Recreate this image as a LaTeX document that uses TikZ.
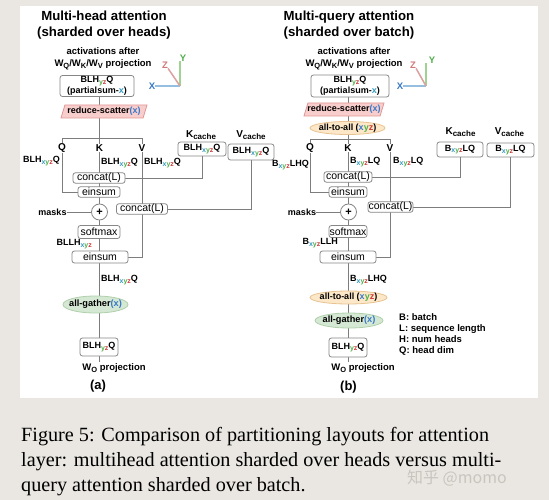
\documentclass[tikz,border=0pt]{standalone}
\usepackage{fontspec}
\setmainfont{Liberation Sans}
\setsansfont{Liberation Sans}
\newfontfamily\capfont{Liberation Serif}
\newfontfamily\cjkfont{Noto Sans CJK SC}
\usetikzlibrary{shapes.geometric,calc}
\pgfdeclarelayer{bg}
\pgfdeclarelayer{lines}
\pgfsetlayers{bg,lines,main}
\definecolor{pagebg}{RGB}{234,231,226}
\definecolor{xc}{RGB}{55,120,200}
\definecolor{xs}{RGB}{55,155,195}
\definecolor{yc}{RGB}{80,175,75}
\definecolor{zc}{RGB}{205,55,55}
\definecolor{zl}{RGB}{210,120,120}
\definecolor{xline}{RGB}{150,190,225}
\definecolor{yline}{RGB}{160,210,145}
\definecolor{zline}{RGB}{220,160,160}
\definecolor{boxgray}{RGB}{135,135,135}
\definecolor{linegray}{RGB}{125,125,125}
\definecolor{rsfill}{RGB}{248,206,204}
\definecolor{rsdraw}{RGB}{225,150,150}
\definecolor{agfill}{RGB}{213,232,212}
\definecolor{agdraw}{RGB}{175,208,170}
\definecolor{aafill}{RGB}{252,232,200}
\definecolor{aadraw}{RGB}{232,195,145}
\definecolor{wmgray}{RGB}{200,196,190}
\newcommand{\lowsub}[2]{\raisebox{-0.35ex}{\fontsize{#1}{#1}\selectfont #2}}
\newcommand{\sxyz}{\lowsub{7}{\textcolor{xs}{x}\textcolor{yc}{y}\textcolor{zc}{z}}}
\newcommand{\syz}{\lowsub{7}{\textcolor{yc}{y}\textcolor{zc}{z}}}
\tikzset{
  conn/.style={draw=linegray, line width=0.8pt},
  box/.style={draw=boxgray, line width=0.8pt, rounded corners=2.5pt, fill=white, inner sep=0pt, align=center},
  opbox/.style={box, font=\fontsize{10.5}{12}\selectfont},
  databox/.style={box, font=\fontsize{9}{10.5}\selectfont\bfseries},
  lbl/.style={inner sep=0pt, font=\fontsize{9}{10.5}\selectfont\bfseries},
  qkv/.style={inner sep=1pt, fill=white, font=\fontsize{10}{12}\selectfont\bfseries},
  rs/.style={trapezium, trapezium left angle=65, trapezium right angle=115, trapezium stretches body,
    draw=rsdraw, fill=rsfill, line width=0.8pt, inner sep=0pt, font=\fontsize{9}{10}\selectfont\bfseries},
  ag/.style={ellipse, draw=agdraw, fill=agfill, line width=0.8pt, inner sep=0pt, font=\fontsize{9.2}{10}\selectfont\bfseries},
  aa/.style={ellipse, draw=aadraw, fill=aafill, line width=0.8pt, inner sep=0pt, font=\fontsize{9}{10}\selectfont\bfseries},
  plus/.style={circle, draw=boxgray, fill=white, line width=0.8pt, inner sep=0pt, minimum size=16, font=\fontsize{11}{12}\selectfont\bfseries},
  ttl/.style={align=center, inner sep=0pt, font=\fontsize{13.2}{16}\selectfont\bfseries},
  hdr/.style={align=center, inner sep=0pt, font=\fontsize{9.5}{12}\selectfont\bfseries},
  cachelbl/.style={inner sep=0pt, font=\fontsize{10}{11}\selectfont\bfseries},
  axlbl/.style={inner sep=0pt, font=\fontsize{9.5}{10}\selectfont\bfseries},
  axln/.style={line width=1.5pt},
  plbl/.style={inner sep=0pt, font=\fontsize{13}{14}\selectfont\bfseries},
  wo/.style={inner sep=0pt, font=\fontsize{9.5}{11}\selectfont\bfseries},
  captxt/.style={inner sep=0pt, anchor=base west, font=\capfont\fontsize{20.2}{25}\selectfont}
}
\begin{document}
\begin{tikzpicture}[x=1pt,y=-1pt]
\begin{pgfonlayer}{bg}
\fill[pagebg] (0,0) rectangle (549,500);
\fill[white] (20,6) rectangle (538,398);
\end{pgfonlayer}
\useasboundingbox (0,0) rectangle (549,500);

% ---------------- titles ----------------
\node[ttl] (tA) at (104,25) {Multi-head attention\\(sharded over heads)};
\node[ttl] (tB) at (349,25) {Multi-query attention\\(sharded over batch)};
\node[hdr] (actA) at (103,59) {activations after\\W\lowsub{7.5}{Q}/W\lowsub{7.5}{K}/W\lowsub{7.5}{V} projection};
\node[hdr] (actB) at (354,59) {activations after\\W\lowsub{7.5}{Q}/W\lowsub{7.5}{K}/W\lowsub{7.5}{V} projection};

% ---------------- axes ----------------
\coordinate (oA) at (180,86);
\node[axlbl, text=xc] (axXA) at (152,86) {X};
\node[axlbl, text=yc] (axYA) at (183,58) {Y};
\node[axlbl, text=zl] (axZA) at (165,65) {Z};
\draw[axln, xline] (oA) -- (axXA.east);
\draw[axln, yline] (oA) -- (oA |- axYA.south);
\draw[axln, zline] (oA) -- (axZA.south east);
\coordinate (oB) at (426,86);
\node[axlbl, text=xc] (axXB) at (400,86) {X};
\node[axlbl, text=yc] (axYB) at (432,60) {Y};
\node[axlbl, text=zl] (axZB) at (413,65) {Z};
\draw[axln, xline] (oB) -- (axXB.east);
\draw[axln, yline] (oB) -- (oB |- axYB.south);
\draw[axln, zline] (oB) -- (axZB.south east);

% ---------------- panel (a) ----------------
\node[databox, minimum width=74, minimum height=21] (inA) at (97,86) {BLH\syz Q\\(partialsum-\textcolor{xs}{x})};
\node[rs, minimum width=86, minimum height=13] (rsA) at (104,111.5) {\makebox[0pt]{reduce-scatter\textcolor{xc}{(x)}}};
\coordinate (brQA) at (62,138);
\coordinate (brKA) at (99.5,138);
\coordinate (brVA) at (142,138);
\node[qkv] (qA) at (62,148) {Q};
\node[qkv] (kA) at (99.5,148) {K};
\node[qkv] (vA) at (142,148) {V};
\node[lbl, anchor=east] (lqA) at (60,161) {BLH\sxyz Q};
\node[lbl, anchor=west] (lkA) at (101,163) {BLH\sxyz Q};
\node[lbl, anchor=west] (lvA) at (144,163) {BLH\sxyz Q};
\node[opbox, minimum width=52, minimum height=10.5] (catA) at (99,178) {concat(L)};
\node[opbox, minimum width=42, minimum height=10.5] (einA) at (99,192) {einsum};
\node[plus] (plA) at (99.5,212) {+};
\node[lbl] (mkA) at (52.5,212) {masks};
\node[opbox, minimum width=51, minimum height=10.5] (cat2A) at (142,209) {concat(L)};
\node[opbox, minimum width=42, minimum height=13] (smA) at (99,232) {softmax};
\node[lbl, anchor=east] (llA) at (92,244) {BLLH\sxyz};
\node[opbox, minimum width=56, minimum height=12] (ein2A) at (100,257) {einsum};
\node[lbl, anchor=west] (lhA) at (101,280) {BLH\sxyz Q};
\node[ag, minimum width=65, minimum height=17] (agA) at (95.5,304.5) {\makebox[0pt]{all-gather\textcolor{xc}{(x)}}};
\node[databox, minimum width=38, minimum height=18] (outA) at (99,347) {BLH\syz Q};
\coordinate (endA) at (99.5,362);
\node[wo] (woA) at (114,368.5) {W\lowsub{7.5}{O} projection};
\node[plbl] (pa) at (98,386) {(a)};
\node[cachelbl] (kclA) at (201,135) {K\lowsub{8}{cache}};
\node[databox, minimum width=48, minimum height=14] (kcA) at (202,149) {BLH\sxyz Q};
\node[cachelbl] (vclA) at (251,135) {V\lowsub{8}{cache}};
\node[databox, minimum width=46, minimum height=16] (vcA) at (251,152) {BLH\sxyz Q};

\begin{pgfonlayer}{lines}
\draw[conn] (inA.south -| brKA) -- (endA);
\draw[conn] (brQA) -- (brVA);
\draw[conn] (brQA) |- (einA.west);
\draw[conn] (brVA) |- (ein2A.east);
\draw[conn] (kcA.south) |- (catA.east);
\draw[conn] (vcA.south) |- (cat2A.east);
\draw[conn] (mkA.east) -- (plA.west);
\end{pgfonlayer}

% ---------------- panel (b) ----------------
\node[databox, minimum width=78, minimum height=22] (inB) at (350,86) {BLH\syz Q\\(partialsum-\textcolor{xs}{x})};
\node[rs, minimum width=80, minimum height=13] (rsB) at (344,109.5) {\makebox[0pt]{reduce-scatter\textcolor{xc}{(x)}}};
\node[aa, minimum width=75, minimum height=13] (aaB) at (347.5,128) {\makebox[0pt]{all-to-all (\textcolor{xc}{x}\textcolor{yc}{y}\textcolor{zc}{z})}};
\coordinate (brQB) at (310,139);
\coordinate (brKB) at (348,139);
\coordinate (brVB) at (390,139);
\node[qkv] (qB) at (310,148) {Q};
\node[qkv] (kB) at (348,148) {K};
\node[qkv] (vB) at (390,148) {V};
\node[lbl, anchor=east] (lqB) at (309,165) {B\sxyz LHQ};
\node[lbl, anchor=west] (lkB) at (350,162) {B\sxyz LQ};
\node[lbl, anchor=west] (lvB) at (393,162) {B\sxyz LQ};
\node[opbox, minimum width=48, minimum height=10.5] (catB) at (348,177) {concat(L)};
\node[opbox, minimum width=38, minimum height=10.5] (einB) at (348,192) {einsum};
\node[plus] (plB) at (348.5,212) {+};
\node[lbl] (mkB) at (302,212) {masks};
\node[opbox, minimum width=45, minimum height=10.5] (cat2B) at (390.5,207) {concat(L)};
\node[opbox, minimum width=38, minimum height=12] (smB) at (348,231.5) {softmax};
\node[lbl, anchor=east] (llB) at (338,243) {B\sxyz LLH};
\node[opbox, minimum width=56, minimum height=12] (ein2B) at (348,257) {einsum};
\node[lbl, anchor=west] (lhB) at (350,280) {B\sxyz LHQ};
\node[aa, minimum width=77, minimum height=13] (aa2B) at (348.5,297.5) {\makebox[0pt]{all-to-all (\textcolor{xc}{x}\textcolor{yc}{y}\textcolor{zc}{z})}};
\node[ag, minimum width=68, minimum height=15] (agB) at (349,320.5) {\makebox[0pt]{all-gather\textcolor{xc}{(x)}}};
\node[databox, minimum width=38, minimum height=19] (outB) at (348,347.5) {BLH\syz Q};
\coordinate (endB) at (348,362);
\node[wo] (woB) at (363,368.5) {W\lowsub{7.5}{O} projection};
\node[plbl] (pb) at (348.5,387) {(b)};
\node[cachelbl] (kclB) at (460.5,132) {K\lowsub{8}{cache}};
\node[databox, minimum width=46, minimum height=15] (kcB) at (460,149.5) {B\sxyz LQ};
\node[cachelbl] (vclB) at (509.5,132) {V\lowsub{8}{cache}};
\node[databox, minimum width=47, minimum height=14] (vcB) at (510.5,150) {B\sxyz LQ};
\node[lbl, anchor=north west, align=left, font=\fontsize{9.5}{11}\selectfont\bfseries] (leg) at (399,313.5) {B: batch\\L: sequence length\\H: num heads\\Q: head dim};

\begin{pgfonlayer}{lines}
\draw[conn] (inB.south -| brKB) -- (endB);
\draw[conn] (brQB) -- (brVB);
\draw[conn] (brQB) |- (einB.west);
\draw[conn] (brVB) |- (ein2B.east);
\draw[conn] (kcB.south) |- (catB.east);
\draw[conn] (vcB.south) |- (cat2B.east);
\draw[conn] (mkB.east) -- (plB.west);
\end{pgfonlayer}

% ---------------- caption ----------------
\node[captxt] (c1) at (21,441) {Figure 5: Comparison of partitioning layouts for attention};
\node[captxt] (c2) at (21,466) {layer: multihead attention sharded over heads versus multi-};
\node[captxt] (c3) at (21,491) {query attention sharded over batch.};
\node[inner sep=0pt, text=wmgray, font=\cjkfont\fontsize{16}{17}\selectfont] (wm) at (457,478) {知乎 @momo};
\end{tikzpicture}
\end{document}
